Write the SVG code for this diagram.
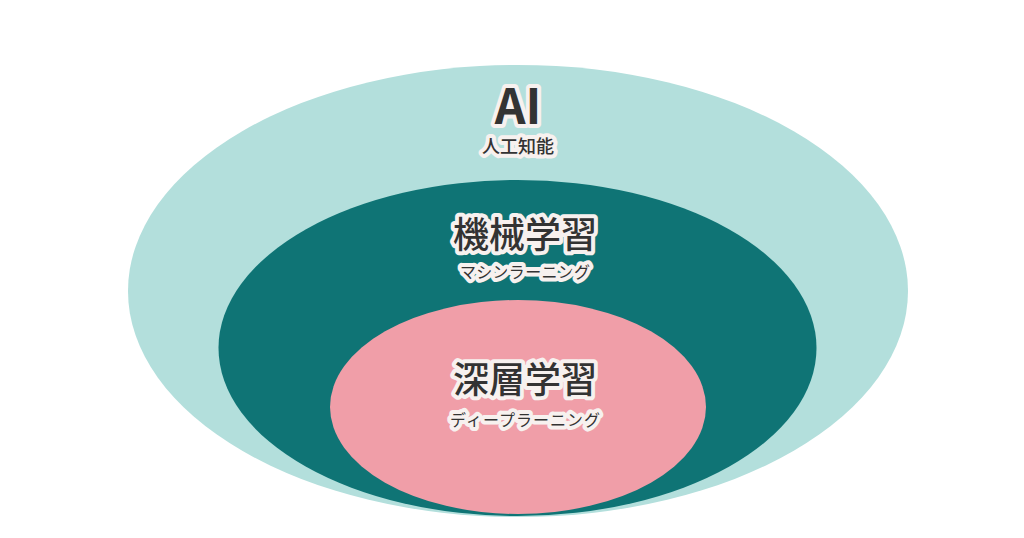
<svg xmlns="http://www.w3.org/2000/svg" width="1024" height="538" viewBox="0 0 1024 538">
<style>
text{font-family:"Noto Sans CJK JP","Noto Sans",sans-serif;fill:#333;text-anchor:middle;stroke:#f7f1ef;stroke-width:8px;stroke-linejoin:round;paint-order:stroke}
.big{font-weight:bold}
</style>
<rect width="1024" height="538" fill="#fff"/>
<g id="ai"><ellipse cx="518" cy="291" rx="390" ry="226" fill="#b3dfdc"/></g>
<g id="ml"><ellipse cx="517.5" cy="348" rx="299" ry="168" fill="#0f7475"/></g>
<g id="dl"><ellipse cx="518" cy="407" rx="188" ry="107" fill="#f09ea8"/></g>
<g id="labels">
<text class="big" x="518" y="124" font-size="48">AI</text>
<text x="518" y="153" font-size="18" font-weight="500">人工知能</text>
<text x="525" y="248" font-size="36" font-weight="500">機械学習</text>
<text x="525" y="278" font-size="16" textLength="130">マシンラーニング</text>
<text x="525" y="393" font-size="36" font-weight="500">深層学習</text>
<text x="525" y="426" font-size="16" textLength="150">ディープラーニング</text>
</g>
<g id="connectors"/>
</svg>
